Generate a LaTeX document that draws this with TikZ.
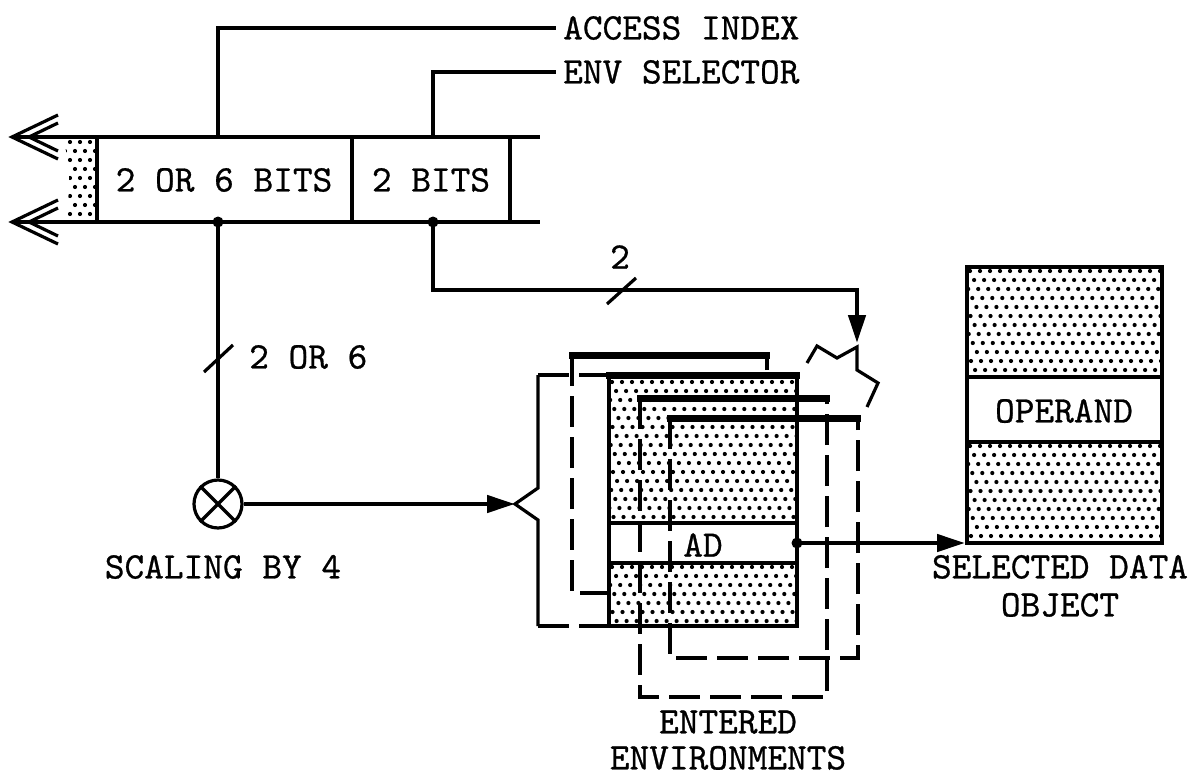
\documentclass[tikz,border=0pt]{standalone}
\usepackage{fontspec}
\newfontface\tyfont{lmmono10-regular.otf}[FakeBold=0.7]
\usetikzlibrary{arrows.meta}
\newcommand\stipple[4]{%
  \begin{scope}
    \clip (#1,#2) rectangle (#3,#4);
    \pgfmathtruncatemacro\stnc{(#3-#1)/10+4}
    \pgfmathtruncatemacro\stnr{(#4-#2)/9+2}
    \foreach \r in {0,...,\stnr}{\foreach \c in {-3,...,\stnc}{%
      \fill ({#1+3+\c*10+mod(\r,2)*5-\r*0.9},{#2+4+\r*9}) circle (2.1pt);}}
  \end{scope}}
\begin{document}
\begin{tikzpicture}[x=1pt,y=-1pt,
  txt/.style={font=\fontsize{37.5}{37.5}\selectfont\tyfont, inner sep=0pt},
  reg/.style={line width=3.2pt},
  wire/.style={line width=4.5pt},
  topl/.style={line width=7pt},
  dsh/.style={line width=3.2pt, dash pattern=on 31pt off 10pt},
  arr/.style={-{Triangle[length=28pt,width=17pt]}},
  jdot/.style={circle, fill, inner sep=0pt, minimum size=11pt}
]
\useasboundingbox[fill=white] (0,0) rectangle (1197,776);

% ---- register: stippled tail
\begin{scope}
  \clip (97,139) -- (63,139) .. controls (71,165) and (71,195) .. (64,221) -- (97,221) -- cycle;
  \foreach \r in {0,...,10}{\foreach \c in {-1,...,5}{%
    \fill ({60+\c*10+mod(\r,2)*5},{142+\r*9}) circle (2.1pt);}}
\end{scope}

% ---- register lines and fields
\coordinate (tA) at (218,137);
\coordinate (tB) at (433,137);
\coordinate (jA) at (218,222);
\coordinate (jB) at (433,222);
\draw[reg] (12,137) -- (540,137);
\draw[reg] (12,222) -- (540,222);
\draw[reg] (97,137) -- (97,222);
\draw[reg] (352,137) -- (352,222);
\draw[reg] (510,137) -- (510,222);
% double open arrowheads
\draw[reg] (58,115) -- (12,137) -- (58,159);
\draw[reg] (58,123) -- (29,137) -- (58,151);
\draw[reg] (58,200) -- (12,222) -- (58,244);
\draw[reg] (58,208) -- (29,222) -- (58,236);

\node[txt] (f1) at (224,180) {2 OR 6 BITS};
\node[txt] (f2) at (431,180) {2 BITS};

% ---- labels at the top
\node[txt, anchor=west, inner xsep=7pt] (acc) at (556,28) {ACCESS INDEX};
\node[txt, anchor=west, inner xsep=7pt] (env) at (556,72) {ENV SELECTOR};
\draw[wire] (tA) |- (acc.west);
\draw[wire] (tB) |- (env.west);

% ---- scaling path
\node[circle, draw, line width=3.2pt, minimum size=48pt, inner sep=0pt] (mult) at (218,504) {};
\draw[reg] (mult.north west) -- (mult.south east);
\draw[reg] (mult.north east) -- (mult.south west);
\draw[wire] (jA) -- (mult.north);
\node[jdot] (dA) at (jA) {};
\draw[reg] (204,372) -- (233,345);
\node[txt, anchor=west] (l26) at (249,357) {2 OR 6};
\node[txt] (scl) at (223,567) {SCALING BY 4};

% ---- env selector path
\coordinate (sel) at (857,343);
\draw[wire, arr] (jB) -- (433,290) -- (857,290) -- (sel);
\node[jdot] (dB) at (jB) {};
\draw[reg] (607,304) -- (636,278);
\node[txt] (l2) at (620,257) {2};
\draw[reg] (807,363) -- (817,346) -- (837,358) -- (857,347) -- (857,370) -- (878,383) -- (867,407);

% ---- frame 1 (behind)
\draw[dsh] (572,355) -- (572,593) -- (767,593) -- (767,355);
\draw[topl] (569,355) -- (770,355);

% ---- brace
\coordinate (brace) at (515,504);
\draw[dsh] (538,375) -- (608,375);
\draw[reg] (538,375) -- (538,488) -- (brace) -- (538,520) -- (538,626);
\draw[dsh] (538,626) -- (608,626);
\draw[wire, arr] (mult.east) -- (brace);

% ---- front box
\fill[white] (609,375) rectangle (797,626);
\stipple{609}{378}{797}{523}
\stipple{609}{563}{797}{626}
\draw[reg] (609,523) -- (797,523);
\draw[reg] (609,563) -- (797,563);
\draw[line width=3.6pt] (609,375) -- (609,626) -- (797,626) -- (797,375);
\draw[topl] (606,375) -- (800,375);
\node[txt] (ad) at (703,545) {AD};

% ---- frames 2 and 3 (in front)
\draw[dsh] (640,398) -- (640,697) -- (827,697) -- (827,398);
\draw[topl] (637,398) -- (830,398);
\draw[dsh] (670,418) -- (670,658) -- (858,658) -- (858,418);
\draw[topl] (667,418) -- (861,418);

% ---- selected data object
\fill[white] (967,267) rectangle (1162,543);
\stipple{967}{267}{1162}{377}
\stipple{967}{442}{1162}{543}
\draw[reg] (967,377) -- (1162,377);
\draw[reg] (967,442) -- (1162,442);
\draw[line width=3.6pt] (967,267) rectangle (1162,543);
\node[txt] (opd) at (1064,411) {OPERAND};
\coordinate (dobj) at (965,543);

% ---- AD output
\coordinate (adR) at (797,543);
\draw[wire, arr] (adR) -- (dobj);
\node[jdot] (dAD) at (adR) {};

% ---- captions
\node[txt, align=center, anchor=south, font=\fontsize{37.5}{36}\selectfont\tyfont] (ent) at (728,770) {ENTERED\\ENVIRONMENTS};
\node[txt, align=center, anchor=south, font=\fontsize{37.5}{38}\selectfont\tyfont] (sdo) at (1060,617) {SELECTED DATA\\OBJECT};
\end{tikzpicture}
\end{document}
